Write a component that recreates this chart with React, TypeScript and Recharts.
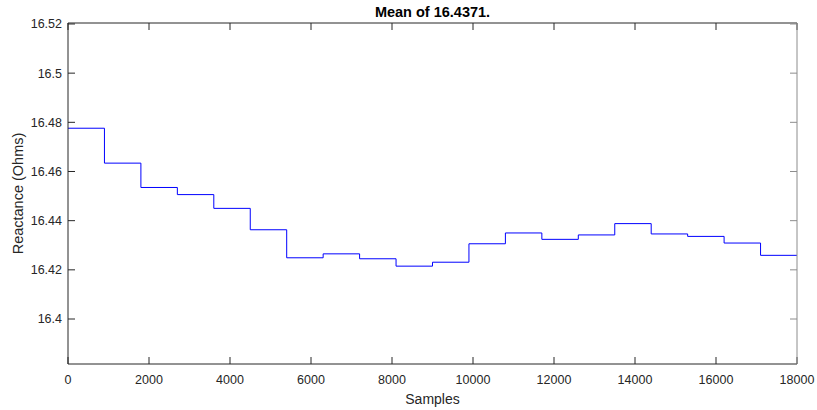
import { LineChart, Line, XAxis, YAxis, Label } from "recharts";

const sampleStarts = [0, 900, 1800, 2700, 3600, 4500, 5400, 6300, 7200, 8100, 9000, 9900, 10800, 11700, 12600, 13500, 14400, 15300, 16200, 17100];
const reactance = [16.4776, 16.4634, 16.4535, 16.4506, 16.445, 16.4363, 16.4249, 16.4265, 16.4245, 16.4215, 16.4231, 16.4306, 16.435, 16.4324, 16.4342, 16.4388, 16.4346, 16.4336, 16.4309, 16.4259];
const sampleEnd = 18000;
const xTicks = [0, 2000, 4000, 6000, 8000, 10000, 12000, 14000, 16000, 18000];
const yTicks = [16.4, 16.42, 16.44, 16.46, 16.48, 16.5, 16.52];
const yDomain = [16.3817, 16.5204];
const title = "Mean of 16.4371.";

const font = '"Liberation Sans", Arial, Helvetica, sans-serif';
const ink = "#262626";

const data = [
  ...sampleStarts.map((s, i) => ({ sample: s, value: reactance[i] })),
  { sample: sampleEnd, value: reactance[reactance.length - 1] },
];

const tickStyle = { fontSize: 12.5, fill: ink, fontFamily: font };

function YLabel(props: any) {
  const vb = props.viewBox || { x: 0, y: 0, width: 0, height: 0 };
  const cy = vb.y + vb.height / 2;
  const cx = 23;
  return (
    <text
      x={cx}
      y={cy}
      transform={`rotate(-90 ${cx} ${cy})`}
      textAnchor="middle"
      fontSize={14.5}
      fontFamily={font}
      fill={ink}
    >
      Reactance (Ohms)
    </text>
  );
}

export default function App() {
  return (
    <div style={{ position: "absolute", left: 0, top: 0, width: 817, height: 410, background: "#fff" }}>
      <LineChart width={817} height={410} data={data} margin={{ top: 22, right: 19, bottom: 0, left: 8 }}>
        <XAxis
          xAxisId="bottom"
          dataKey="sample"
          type="number"
          domain={[0, sampleEnd]}
          ticks={xTicks}
          allowDataOverflow
          height={46}
          tickSize={-7}
          tickMargin={18}
          stroke={ink}
          tick={tickStyle}
        >
          <Label value="Samples" position="insideBottom" offset={6} style={{ fontSize: 14, fill: ink, fontFamily: font }} />
        </XAxis>
        <XAxis
          xAxisId="top"
          orientation="top"
          dataKey="sample"
          type="number"
          domain={[0, sampleEnd]}
          ticks={xTicks}
          allowDataOverflow
          height={1}
          tickSize={-7}
          tickFormatter={() => ""}
          stroke={ink}
        >
          <Label value={title} position="top" offset={5} style={{ fontSize: 14.5, fontWeight: "bold", fill: "#000", fontFamily: font }} />
        </XAxis>
        <YAxis
          yAxisId="left"
          type="number"
          domain={yDomain}
          ticks={yTicks}
          allowDataOverflow
          width={60}
          tickSize={-7}
          tickMargin={13}
          stroke={ink}
          tick={tickStyle}
          tickFormatter={(v: number) => String(v)}
        >
          <Label content={<YLabel />} />
        </YAxis>
        <YAxis
          yAxisId="right"
          orientation="right"
          type="number"
          domain={yDomain}
          ticks={yTicks}
          allowDataOverflow
          width={1}
          tickSize={-7}
          tickFormatter={() => ""}
          stroke="#8c8c8c"
        />
        <Line
          xAxisId="bottom"
          yAxisId="left"
          type="stepAfter"
          dataKey="value"
          stroke="#0000ff"
          strokeWidth={1}
          dot={false}
          activeDot={false}
          isAnimationActive={false}
        />
      </LineChart>
    </div>
  );
}
